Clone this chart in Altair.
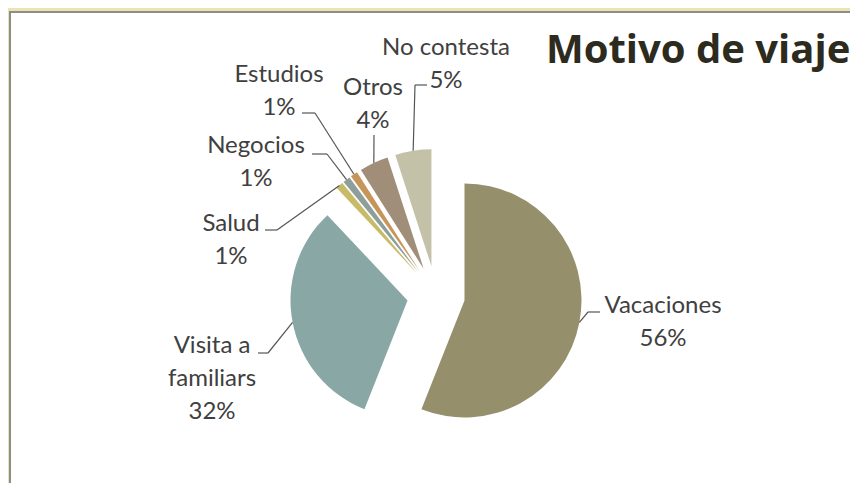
import altair as alt
import pandas as pd
import math

# ---------------- data ----------------
categories = ["Vacaciones", "Visita a familiares", "Salud", "Negocios",
              "Estudios", "Otros", "No contesta"]
percentages = [56, 32, 1, 1, 1, 4, 5]
label_names = [["Vacaciones"], ["Visita a", "familiars"], ["Salud"], ["Negocios"],
               ["Estudios"], ["Otros"], ["No contesta"]]
colors = ["#958F6B", "#88A7A5", "#C8BB68", "#8E9E9B", "#C7955A", "#A08E78", "#C4C1A9"]

# ---------------- layout (page px) ----------------
OX, OY = 9, 11                 # view origin on the page
CX, CY = 436 - OX, 295 - OY    # pie centre in view px
R = 117                        # pie radius
EXPLODE = 29                   # explosion distance
FONT = "Lato"
TXT = "#404040"
LINE_STEP = 33

# label anchor: centre x, first baseline y
label_pos = {
    "Vacaciones": (663, 313),
    "Visita a familiares": (212, 353),
    "Salud": (231, 231),
    "Negocios": (256, 153),
    "Estudios": (279, 82),
    "Otros": (373, 95),
    "No contesta": (446, 55),
}
# leader lines: tick start x, knee x, knee y
leader_pos = {
    "Vacaciones": (600, 588, 312),
    "Visita a familiares": (258, 268, 353),
    "Salud": (265, 277, 230),
    "Negocios": (312, 327, 154),
    "Estudios": (302, 315, 113),
    "Otros": (374, 374, 135),
    "No contesta": (427, 415, 85),
}

W, H = 841, 472

df = pd.DataFrame({"cat": categories, "value": percentages,
                   "order": list(range(len(categories)))})

rows = []
for cat, v, names in zip(categories, percentages, label_names):
    x, y = label_pos[cat]
    lines = names + [f"{v}%"]
    for i, t in enumerate(lines):
        rows.append({"cat": cat, "text": t, "x": x - OX, "y": y - OY + i * LINE_STEP})
labels_df = pd.DataFrame(rows)

leaders_df = pd.DataFrame([
    {"cat": c, "tx": leader_pos[c][0] - OX, "kx": leader_pos[c][1] - OX,
     "ky": leader_pos[c][2] - OY} for c in categories])

base = (
    alt.Chart(df)
    .transform_window(cum="sum(value)", sort=[alt.SortField("order")], frame=[None, 0])
    .transform_calculate(
        start="datum.cum - datum.value",
        end="datum.cum",
        mid="(datum.cum - datum.value / 2) / 100 * 2 * PI",
    )
    .transform_calculate(
        cx=f"{CX} + {EXPLODE} * sin(datum.mid)",
        cy=f"{CY} - {EXPLODE} * cos(datum.mid)",
    )
    .transform_calculate(
        ax=f"datum.cx + {R} * sin(datum.mid)",
        ay=f"datum.cy - {R} * cos(datum.mid)",
    )
)

arcs = base.mark_arc(radius=R).encode(
    theta=alt.Theta("start:Q", scale=alt.Scale(domain=[0, 100], range=[0, 2 * math.pi]),
                    stack=None),
    theta2="end:Q",
    x=alt.X("cx:Q", scale=None, axis=None),
    y=alt.Y("cy:Q", scale=None, axis=None),
    color=alt.Color("cat:N", scale=alt.Scale(domain=categories, range=colors), legend=None),
)

diag = (
    base.transform_lookup(lookup="cat", from_=alt.LookupData(leaders_df, "cat", ["kx", "ky"]))
    .mark_rule(color="#555555", strokeWidth=1.2)
    .encode(
        x=alt.X("kx:Q", scale=None, axis=None),
        y=alt.Y("ky:Q", scale=None, axis=None),
        x2="ax:Q",
        y2="ay:Q",
    )
)

ticks = alt.Chart(leaders_df).mark_rule(color="#555555", strokeWidth=1.2).encode(
    x=alt.X("tx:Q", scale=None, axis=None),
    x2="kx:Q",
    y=alt.Y("ky:Q", scale=None, axis=None),
)

labels = alt.Chart(labels_df).mark_text(
    font=FONT, fontSize=24, color=TXT, align="center", baseline="alphabetic"
).encode(
    x=alt.X("x:Q", scale=None, axis=None),
    y=alt.Y("y:Q", scale=None, axis=None),
    text="text:N",
)

one = pd.DataFrame({"a": [0]})
title = alt.Chart(one).mark_text(
    font="Open Sans", fontSize=40, fontWeight="bold", color="#2D2A1E", align="left",
    baseline="alphabetic",
).encode(x=alt.value(546 - OX), y=alt.value(63 - OY), text=alt.value("Motivo de viaje"))

frame_top = alt.Chart(one).mark_rule(color="#8C8C8C", strokeWidth=2).encode(
    x=alt.value(0), x2=alt.value(W), y=alt.value(1))
frame_left = alt.Chart(one).mark_rule(color="#8C8C8C", strokeWidth=2).encode(
    x=alt.value(1), y=alt.value(0), y2=alt.value(H))

chart = (
    alt.layer(frame_top, frame_left, arcs, ticks, diag, labels, title)
    .properties(width=W, height=H, background="#E9E4B2",
                padding={"left": 1, "top": 3, "right": 0, "bottom": 0},
                autosize=alt.AutoSizeParams(type="none"))
    .configure_view(fill="white", stroke=None)
)

chart.save("out.html", embed_options={"renderer": "svg", "actions": False})
